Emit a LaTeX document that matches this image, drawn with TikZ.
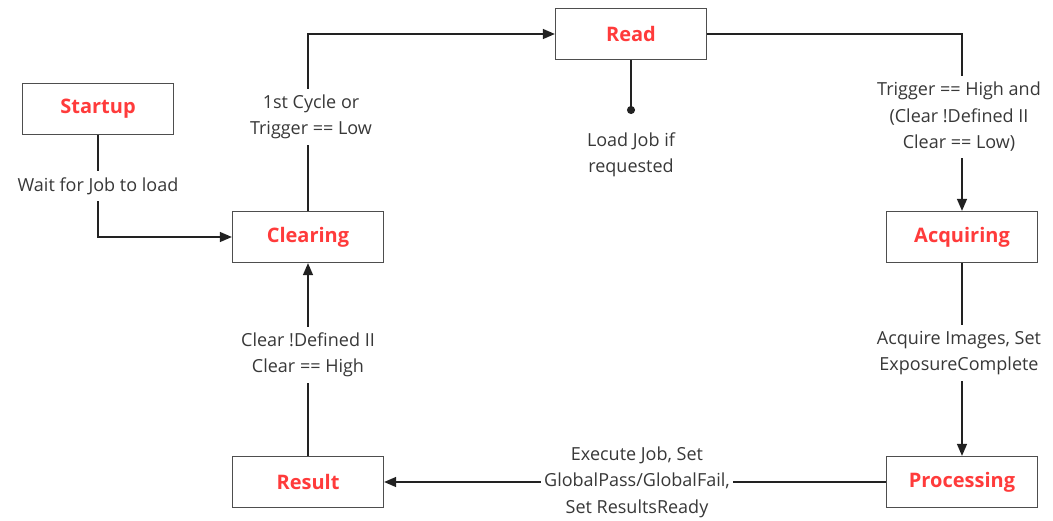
\documentclass[tikz,border=0pt]{standalone}
\usepackage{fontspec}
\setmainfont{Open Sans}
\usetikzlibrary{arrows.meta}
\definecolor{stred}{HTML}{FF3B3B}
\definecolor{txt}{HTML}{383838}
\definecolor{ln}{HTML}{222222}
\begin{document}
\begin{tikzpicture}[x=1pt,y=-1pt,
  state/.style={draw=ln!80, line width=1.3pt, fill=white, minimum width=151pt, minimum height=51pt,
    inner sep=0pt, font=\fontsize{20}{24}\selectfont\bfseries, text=stred},
  lbl/.style={fill=white, align=center, text=txt, inner xsep=3pt, inner ysep=6pt,
    font=\fontsize{18}{26.5}\selectfont},
  conn/.style={draw=ln, line width=1.4pt},
  arr/.style={conn, -{Triangle[length=12pt,width=10pt]}}]
\useasboundingbox (0,0) rectangle (1053,520);
\node[state] (startup) at (98,109) {Startup};
\node[state] (clearing) at (308,237) {Clearing};
\node[state] (read) at (631,34) {Read};
\node[state] (acq) at (962,237) {Acquiring};
\node[state] (proc) at (962,482) {Processing};
\node[state] (result) at (308,482) {Result};
\coordinate (load) at (631,114);

\draw[arr] (startup.south) |- (clearing.west);
\draw[arr] (clearing.north) |- (read.west);
\draw[conn, -{Circle[length=8pt]}] (read.south) -- (load);
\draw[arr] (read.east) -| (acq.north);
\draw[arr] (acq.south) -- (proc.north);
\draw[arr] (proc.west) -- (result.east);
\draw[arr] (result.north) -- (clearing.south);

\node[lbl] (l1) at (98,186) {Wait for Job to load};
\node[lbl] (l2) at (311,117) {1st Cycle or\\Trigger == Low};
\node[lbl, fill=none] (l3) at (631,155) {Load Job if\\requested};
\node[lbl] (l4) at (959,117) {Trigger == High and\\(Clear !Defined II\\Clear == Low)};
\node[lbl] (l5) at (959,353) {Acquire Images, Set\\ExposureComplete};
\node[lbl] (l6) at (637,482) {Execute Job, Set\\GlobalPass/GlobalFail,\\Set ResultsReady};
\node[lbl] (l7) at (308,355) {Clear !Defined II\\Clear == High};
\end{tikzpicture}
\end{document}
